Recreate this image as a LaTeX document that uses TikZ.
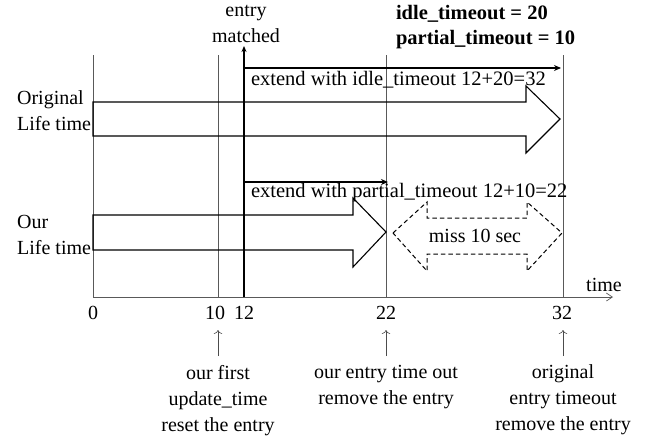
\documentclass[tikz,border=0pt]{standalone}
\usepackage{fontspec}
\setmainfont{Liberation Serif}
\usetikzlibrary{arrows.meta}
\begin{document}
\begin{tikzpicture}[x=1pt,y=-1pt,
  every node/.style={inner sep=0pt,outer sep=0pt,font=\fontsize{20}{26}\selectfont},
  grid/.style={draw=black!65,line width=0.7pt},
  life/.style={draw=black,line width=1.1pt,line join=miter},
  miss/.style={draw=black,line width=1pt,dash pattern=on 4.5pt off 3pt},
  ext/.style={draw=black,line width=1.6pt,-{Stealth[length=7pt,width=6pt]}},
  note/.style={draw=black!70,line width=0.6pt,-{To[length=4pt]}},
  lbl/.style={align=center},
  extlbl/.style={anchor=west,font=\fontsize{20.5}{26}\selectfont},
  boldlbl/.style={anchor=west,font=\fontsize{20.5}{26}\selectfont\bfseries}]
\useasboundingbox (0,0) rectangle (653,437);
% coordinates
\coordinate (o) at (93,297);
\coordinate (axend) at (613,297);
\foreach \n/\x in {g0/93,g10/218,g22/386,g32/563}{
  \coordinate (\n t) at (\x,55);
  \coordinate (\n b) at (\x,297);
}
\coordinate (m0) at (244,297);
\coordinate (m1) at (244,46);
\coordinate (e1) at (244,68);
\coordinate (e1e) at (561,68);
\coordinate (e2) at (244,182);
\coordinate (e2e) at (388,182);
% grid lines
\foreach \n in {g0,g10,g22,g32}{\draw[grid] (\n t) -- (\n b);}
% time axis
\draw[grid,-{Straight Barb[length=6pt,width=8pt]}] (o) -- (axend);
\node (time) at (604,285) {time};
% original lifetime arrow
\draw[life] (93,102) -- (526,102) -- (526,86) -- (560,119) -- (526,153) -- (526,136) -- (93,136) -- cycle;
% our lifetime arrow
\draw[life] (93,215) -- (353,215) -- (353,198) -- (386,232) -- (353,267) -- (353,250) -- (93,250) -- cycle;
% missing region
\draw[miss] (393,233) -- (427,202) -- (427,218) -- (527,218) -- (527,202) -- (562,233) -- (527,271) -- (527,254) -- (427,254) -- (427,271) -- cycle;
\node (misst) at (475,236) {miss 10 sec};
% entry matched
\draw[line width=2pt,-{Stealth[length=6pt,width=5pt]}] (m0) -- (m1);
\draw[ext] (e1) -- (e1e);
\draw[ext] (e2) -- (e2e);
\node[lbl] (em) at (246,24) {\fontsize{20}{23}\selectfont entry\\matched};
\node[extlbl] (ext1) at (251,80) {extend with idle\_timeout 12+20=32};
\node[extlbl] (ext2) at (251,193) {extend with partial\_timeout 12+10=22};
\node[boldlbl] (idle) at (396,14) {idle\_timeout = 20};
\node[boldlbl] (part) at (396,40) {partial\_timeout = 10};
% left labels
\node[anchor=east,align=left] (orig) at (91,111) {\fontsize{20}{28}\selectfont Original\\Life time};
\node[anchor=east,align=left] (our) at (91,235) {\fontsize{20}{27}\selectfont Our\\Life time};
% tick labels
\node (t0) at (93,313) {0};
\node (t10) at (215,313) {10};
\node (t12) at (244,313) {12};
\node (t22) at (386,313) {22};
\node (t32) at (562,313) {32};
% notes
\node[lbl,anchor=north] (n1) at (218,365) {\fontsize{20}{26.5}\selectfont our first\\update\_time\\reset the entry};
\node[lbl,anchor=north] (n2) at (386,365) {\fontsize{20}{26.5}\selectfont our entry time out\\remove the entry};
\node[lbl,anchor=north] (n3) at (563,365) {\fontsize{20}{26.5}\selectfont original\\entry timeout\\remove the entry};
\coordinate (a1) at (218,356); \coordinate (a1e) at (218,330);
\coordinate (a2) at (386,356); \coordinate (a2e) at (386,330);
\coordinate (a3) at (563,356); \coordinate (a3e) at (563,330);
\draw[note] (a1) -- (a1e);
\draw[note] (a2) -- (a2e);
\draw[note] (a3) -- (a3e);
\end{tikzpicture}
\end{document}
